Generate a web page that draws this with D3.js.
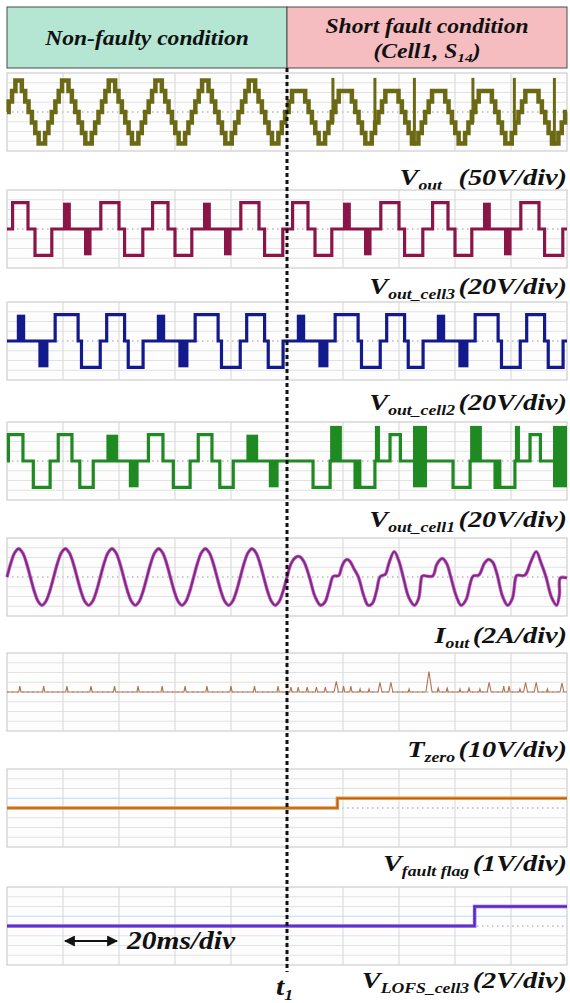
<!DOCTYPE html>
<html>
<head>
<meta charset="utf-8">
<script src="https://cdn.jsdelivr.net/npm/d3@7"></script>
<style>
  body { margin: 0; background: #fff; }
  svg text { font-family: "Liberation Serif", "Times New Roman", serif; font-weight: bold; font-style: italic; fill: #111; }
</style>
</head>
<body>
<svg id="chart"></svg>
<script>
// ---- data (time in ms, values in physical units) ----
const timeDomain = [0, 200];
const faultTime = 100;
const cycleStartsPre = [0, 16.67, 33.33, 50, 66.67, 83.33];
const cycleStartsPost = [100, 116.67, 133.33, 150, 166.67, 183.33];
const superStarts = [0, 50, 100, 150];   // cell switching pattern repeats every 50 ms

// Vout staircase for one cycle: [start ms, volts]
const voutCycle = [[0,0],[0.6,54],[1.8,108],[3.0,162],[5.3,108],[6.5,54],[7.7,0],[8.9,-54],[10.1,-108],[11.3,-162],[13.6,-108],[14.8,-54],[16.0,0]];
const voutCyclePost = [[0,0],[0.6,54],[1.8,108],[6.5,54],[7.7,0],[8.9,-54],[10.1,-108],[11.3,-162],[13.6,-108],[14.8,-54],[16.0,0]];
// spikes after the fault: [t, from V, to V]
const voutSpikes = [[116.4,-54,175],[131.4,-54,175],[145.5,-172,175],[166.4,-54,175],[181.2,-54,175],[195.5,-172,175]];

// cell outputs, one 50 ms pattern: segments [start, end, V], pwm blocks [start, end, low, high]
const cell3Segs = [[0,2,0],[2,7.5,54],[7.5,10,0],[10,16,-54],[16,33.5,0],[33.5,40,54],[40,42,0],[42,48.5,-54],[48.5,50,0]];
const cell3Blocks = [[20,22.8,0,54],[27.5,30.2,-54,0]];
const cell2Segs = [[0,17.2,0],[17.2,25.4,54],[25.4,26.6,0],[26.6,33.3,-54],[33.3,35.6,0],[35.6,42,54],[42,43.3,0],[43.3,48.6,-54],[48.6,50,0]];
const cell2Blocks = [[3.5,6.5,0,54],[11.2,14.8,-54,0]];
const cell1SegsPre = [[0,0.5,0],[0.5,5.7,54],[5.7,9.4,0],[9.4,15.4,-54],[15.4,18.3,0],[18.3,23.2,54],[23.2,26,0],[26,30.8,-54],[30.8,50,0]];
const cell1BlocksPre = [[35.5,39.7,0,54],[43.5,47,-54,0]];
const cell1SegsPost = [[0,9.3,0],[9.3,15.4,-54],[15.4,24.3,0],[24.3,25,-54],[25,26,0],[26,31.4,-54],[31.4,36.8,0],[36.8,40.5,54],[40.5,50,0]];
const cell1BlocksPost = [[15.4,19.6,0,72],[31.4,33.2,0,72],[45,50,-54,72]];

// output current [t, A]
const ioutCycle = [[0,0],[1.39,2.9],[2.78,5.0],[4.17,5.8],[5.56,5.0],[6.94,2.9],[8.33,0],[9.72,-2.9],[11.11,-5.0],[12.5,-5.8],[13.89,-5.0],[15.28,-2.9]];
const ioutPost = [[100,0],[101.5,2.8],[103,4.0],[104.5,4.2],[106,3.2],[108,0],[110,-4.0],[112,-5.8],[113.5,-5.2],[115,-2.6],[116.3,0],[116.8,0.2],[118.5,0.3],[119.5,2.0],[120.5,3.2],[121.5,3.6],[122.5,3.2],[124,1.6],[125.5,0],[127.5,-4.0],[129,-5.8],[130.5,-5.4],[132,-2.8],[133.2,0],[134.5,0.4],[135.2,0.6],[136.5,3.0],[138.3,5.2],[140,3.2],[141.5,0],[143.5,-4.2],[145.5,-5.8],[147,-4.4],[147.8,-1.0],[148.3,0.2],[152,0.2],[153.5,2.6],[155.4,3.8],[157,2.8],[158.5,0],[160.5,-4.0],[162.2,-5.8],[164,-4.6],[165.5,-1.2],[166.5,0.2],[168.5,0.4],[170.5,2.8],[172,3.6],[173.5,3.0],[175,0.6],[177,-4.0],[178.8,-5.8],[180.5,-4.4],[181.5,-0.6],[182,0.3],[185,0.4],[187,3.0],[189,5.2],[190.8,2.8],[192.5,0],[194.5,-4.2],[196.3,-5.8],[197.3,-3.6],[197.6,-0.2],[200,-0.2]];

// Tzero pulses: [t, V, width ms]
const tzeroPulses = [[4.6,6,0.8],[13.1,6,0.8],[21.4,6,0.8],[30,6,0.8],[38.4,6,0.8],[46.8,6,0.8],[55.4,6,0.8],[63.6,6,0.8],[71.4,6,0.8],[80,6,0.8],[88.4,6,0.8],[96.8,6,0.8],
  [101.4,5,0.8],[104,5,0.8],[107.2,5,0.8],[110.5,5,0.8],[113.7,5,0.8],[117.6,11,1.6],[120.2,6,0.8],[122.8,6,0.8],[126.1,3,0.6],[129.3,3,0.6],[133.2,10,1.4],[137.1,10,1.4],[143.6,3,0.6],
  [150.7,21,2.2],[154,4,0.8],[157.2,4,0.8],[161.8,3,0.6],[165,4,0.8],[168.9,3,0.6],[172.2,10,1.4],[177.4,6,0.8],[179.3,6,0.8],[183.2,3,0.6],[185.2,10,1.4],[189,10,1.4],[193,3,0.6],[198.2,9,1.4]];

const faultFlag = [[0,0],[118,1]];      // V
const lofsCell3 = [[0,0],[167,4]];      // V

// per-panel y range (4 div each side)
const panelRanges = [[-200,200],[-80,80],[-80,80],[-80,80],[-8,8],[-40,40],[-4,4],[-8,8]];
const panelLabels = [
  ["V","out","(50V/div)"],["V","out_cell3","(20V/div)"],["V","out_cell2","(20V/div)"],["V","out_cell1","(20V/div)"],
  ["I","out","(2A/div)"],["T","zero","(10V/div)"],["V","fault flag","(1V/div)"],["V","LOFS_cell3","(2V/div)"]];

// ---- layout ----
const width = 570, height = 1003;
const left = 7, right = 567;
const panelTops = [73, 190, 302, 422, 538, 653, 769, 887];
const panelH = 78;
const labelBase = [185, 294, 410, 527, 643, 757, 871, 988];
const stretch = 1.18;   // the original lettering is wide

const svg = d3.select("#chart").attr("width", width).attr("height", height);
const x = d3.scaleLinear().domain(timeDomain).range([left, right]);

function wideText(px, py, anchor, size) {
  return svg.append("text").attr("transform", `translate(${px},${py}) scale(${stretch},1)`)
    .attr("text-anchor", anchor).style("font-size", size + "px");
}

// header
const hdr = svg.append("g");
hdr.append("rect").attr("x", left).attr("y", 7).attr("width", x(faultTime) - left).attr("height", 61)
  .attr("fill", "#b4e6d3").attr("stroke", "#4a4a4a");
hdr.append("rect").attr("x", x(faultTime)).attr("y", 7).attr("width", right - x(faultTime)).attr("height", 61)
  .attr("fill", "#f6bdc1").attr("stroke", "#4a4a4a");
wideText((left + x(faultTime)) / 2, 45, "middle", 20).text("Non-faulty condition");
wideText((x(faultTime) + right) / 2, 33, "middle", 20).text("Short fault condition");
const c2 = wideText((x(faultTime) + right) / 2, 58, "middle", 20);
c2.append("tspan").text("(Cell1, S");
c2.append("tspan").attr("dy", 4).style("font-size", "13px").text("14");
c2.append("tspan").attr("dy", -4).text(")");

function makePanel(i) {
  const top = panelTops[i];
  const y = d3.scaleLinear().domain(panelRanges[i]).range([top + panelH, top]);
  const g = svg.append("g");
  g.append("rect").attr("x", left).attr("y", top).attr("width", right - left).attr("height", panelH)
    .attr("fill", "#fdfdfd").attr("stroke", "#c4c4c4");
  const yt = y.ticks(8).slice(1, -1);
  g.selectAll(".h").data(yt).join("line")
    .attr("x1", left).attr("x2", right).attr("y1", d => y(d)).attr("y2", d => y(d))
    .attr("stroke", d => d === 0 ? "#9a9a9a" : ((i >= 6 && d === yt[4]) ? "#bcd9f2" : "#e2e2e2"))
    .attr("stroke-dasharray", d => d === 0 ? "1.5,3.5" : null)
    .attr("stroke-width", d => d === 0 ? 1.2 : 1);
  g.selectAll(".v").data(x.ticks(10).slice(1, -1)).join("line")
    .attr("x1", d => x(d)).attr("x2", d => x(d)).attr("y1", top).attr("y2", top + panelH)
    .attr("stroke", "#d6d6d6");
  // label
  const [m, s, r] = panelLabels[i];
  const t = wideText(right, labelBase[i], "end", 24);
  t.append("tspan").text(m);
  t.append("tspan").attr("dy", 5).style("font-size", "15px").text(s);
  t.append("tspan").attr("dy", -5).attr("dx", i === 0 ? 14 : 3).text(r);
  return { g, y };
}

const stepLine = (y) => d3.line().x(d => x(d[0])).y(d => y(d[1])).curve(d3.curveStepAfter);

function patternPoints(segs, starts, period) {
  const pts = [];
  starts.forEach(s => segs.forEach(([a, b, v]) => pts.push([s + a, v])));
  pts.push([starts[starts.length - 1] + period, segs[segs.length - 1][2]]);
  return pts;
}
function cyclePoints(cycle, starts) {
  const pts = [];
  starts.forEach(s => cycle.forEach(([a, v]) => pts.push([s + a, v])));
  return pts;
}

// 1. Vout
{
  const { g, y } = makePanel(0);
  const pts = cyclePoints(voutCycle, cycleStartsPre).concat(cyclePoints(voutCyclePost, cycleStartsPost));
  pts.push([200, 0]);
  g.append("path").datum(pts).attr("d", stepLine(y)).attr("fill", "none")
    .attr("stroke", "#6c6914").attr("stroke-width", 4.5);
  g.selectAll(".sp").data(voutSpikes).join("line")
    .attr("x1", d => x(d[0])).attr("x2", d => x(d[0])).attr("y1", d => y(d[1])).attr("y2", d => y(d[2]))
    .attr("stroke", "#6c6914").attr("stroke-width", 3);
}

// 2-4. cell outputs
function cellPanel(i, color, segsPre, blocksPre, segsPost, blocksPost) {
  const { g, y } = makePanel(i);
  const pre = patternPoints(segsPre, superStarts.slice(0, 2), 50);
  const post = patternPoints(segsPost, superStarts.slice(2), 50);
  g.append("path").datum(pre.slice(0, -1).concat(post)).attr("d", stepLine(y)).attr("fill", "none")
    .attr("stroke", color).attr("stroke-width", 3.2);
  const blocks = [];
  superStarts.forEach((s, k) => (k < 2 ? blocksPre : blocksPost).forEach(b => blocks.push([s + b[0], s + b[1], b[2], b[3]])));
  g.selectAll(".blk").data(blocks).join("rect")
    .attr("x", d => x(d[0])).attr("width", d => x(d[1]) - x(d[0]))
    .attr("y", d => y(d[3])).attr("height", d => y(d[2]) - y(d[3]))
    .attr("fill", color);
}
cellPanel(1, "#8c1548", cell3Segs, cell3Blocks, cell3Segs, cell3Blocks);
cellPanel(2, "#131a8c", cell2Segs, cell2Blocks, cell2Segs, cell2Blocks);
cellPanel(3, "#1f8a22", cell1SegsPre, cell1BlocksPre, cell1SegsPost, cell1BlocksPost);

// 5. Iout
{
  const { g, y } = makePanel(4);
  const pts = cyclePoints(ioutCycle, cycleStartsPre).concat(ioutPost);
  const line = d3.line().x(d => x(d[0])).y(d => y(d[1])).curve(d3.curveCatmullRom);
  g.append("path").datum(pts).attr("d", line).attr("fill", "none").attr("stroke", "#c65ac8").attr("stroke-width", 3.4);
  g.append("path").datum(pts).attr("d", line).attr("fill", "none").attr("stroke", "#7b2a7e").attr("stroke-width", 1.8);
}

// 6. Tzero
{
  const { g, y } = makePanel(5);
  const pts = [[0, 0]];
  tzeroPulses.forEach(([t, v, w]) => { pts.push([t - w * 0.5, 0], [t, v], [t + w * 0.5, 0]); });
  pts.push([200, 0]);
  g.append("path").datum(pts).attr("d", d3.line().x(d => x(d[0])).y(d => y(d[1]))).attr("fill", "none")
    .attr("stroke", "#b07250").attr("stroke-width", 1.1);
}

// 7-8. flags
function flagPanel(i, data, color, edge) {
  const { g, y } = makePanel(i);
  const pts = data.concat([[200, data[data.length - 1][1]]]);
  g.append("path").datum(pts).attr("d", stepLine(y)).attr("fill", "none").attr("stroke", edge).attr("stroke-width", 3.5);
  g.append("path").datum(pts).attr("d", stepLine(y)).attr("fill", "none").attr("stroke", color).attr("stroke-width", 1.6);
}
flagPanel(6, faultFlag, "#b5651d", "#e39a45");
flagPanel(7, lofsCell3, "#5a28c0", "#7a52dc");

// fault instant
svg.append("line").attr("x1", x(faultTime)).attr("x2", x(faultTime)).attr("y1", 68).attr("y2", 972)
  .attr("stroke", "#111").attr("stroke-width", 3).attr("stroke-dasharray", "4,3");

// time scale arrow
svg.append("defs").append("marker").attr("id", "ah").attr("viewBox", "0 0 10 10").attr("refX", 9).attr("refY", 5)
  .attr("markerWidth", 5).attr("markerHeight", 5).attr("orient", "auto-start-reverse")
  .append("path").attr("d", "M0,0L10,5L0,10Z").attr("fill", "#111");
svg.append("line").attr("x1", x(20) + 2).attr("x2", x(40) - 2).attr("y1", 941).attr("y2", 941)
  .attr("stroke", "#111").attr("stroke-width", 2.2)
  .attr("marker-start", "url(#ah)").attr("marker-end", "url(#ah)");
wideText(x(40) + 8, 949, "start", 25).text("20ms/div");

const t1 = wideText(x(faultTime) - 11, 995, "start", 25);
t1.append("tspan").text("t");
t1.append("tspan").attr("dy", 5).style("font-size", "15px").text("1");
</script>
</body>
</html>
